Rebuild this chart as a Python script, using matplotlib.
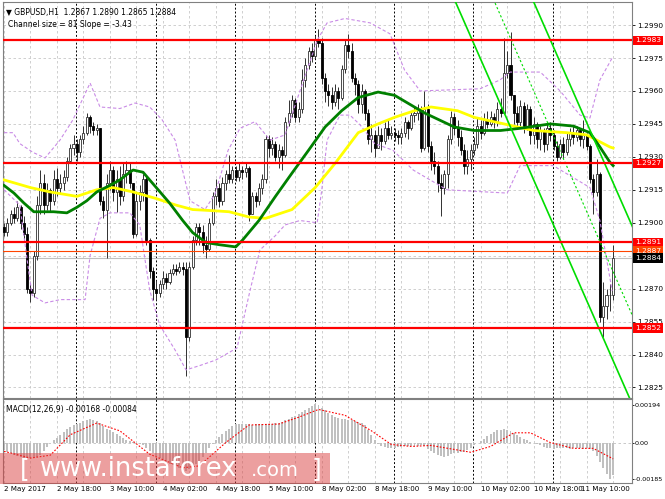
import numpy as np
import matplotlib
matplotlib.use("Agg")
import matplotlib.pyplot as plt
from matplotlib.patches import Rectangle

# ---- data (prices given as pips above 1.2800) ----
BASE = 1.28
first_open = 98
closes = [96, 100, 104, 102, 107, 100, 95, 70, 68, 85,
          108, 118, 108, 115, 110, 120, 116, 118, 121, 128,
          134, 136, 132, 138, 141, 148, 144, 142, 143, 110,
          106, 118, 124, 114, 120, 112, 122, 124, 118, 95,
          110, 114, 120, 92, 78, 70, 68, 72, 75, 73,
          77, 79, 78, 80, 79, 48, 80, 92, 98, 96,
          90, 88, 100, 112, 116, 110, 118, 122, 120, 124,
          121, 124, 123, 125, 104, 112, 110, 116, 120, 138,
          134, 136, 130, 133, 131, 146, 150, 156, 148, 152,
          165, 172, 178, 176, 183, 182, 166, 160, 158, 155,
          160, 157, 170, 181, 178, 166, 163, 154, 160, 150,
          138, 140, 134, 140, 137, 143, 140, 141, 140, 139,
          141, 146, 143, 149, 150, 152, 134, 152, 135, 128,
          126, 118, 116, 122, 138, 148, 143, 139, 133, 126,
          129, 133, 136, 144, 141, 147, 145, 148, 146, 152,
          150, 168, 172, 158, 150, 146, 153, 144, 152, 140,
          145, 138, 142, 136, 143, 140, 135, 130, 136, 132,
          138, 141, 139, 142, 138, 140, 135, 120, 114, 122,
          57, 62, 67, 67, 84]
highs = [100, 102, 106, 107, 110, 108, 103, 98, 72, 87,
         112, 124, 122, 118, 116, 124, 125, 122, 124, 130,
         136, 140, 138, 140, 144, 150, 149, 146, 145, 143,
         112, 122, 128, 126, 124, 126, 127, 128, 127, 118,
         114, 117, 122, 121, 93, 80, 74, 74, 78, 77,
         79, 81, 81, 82, 82, 82, 82, 94, 100, 100,
         99, 94, 102, 114, 120, 118, 121, 124, 131, 126,
         126, 127, 126, 127, 126, 114, 114, 118, 122, 140,
         140, 139, 137, 136, 135, 148, 156, 158, 157, 155,
         170, 175, 180, 182, 185, 188, 184, 168, 163, 162,
         163, 162, 172, 183, 186, 182, 168, 165, 163, 161,
         152, 145, 142, 144, 143, 146, 147, 144, 143, 142,
         143, 148, 147, 151, 153, 154, 153, 160, 154, 137,
         132, 128, 122, 124, 140, 151, 150, 147, 142, 136,
         133, 136, 139, 148, 147, 150, 151, 151, 150, 155,
         157, 184, 178, 187, 158, 153, 156, 155, 154, 153,
         148, 146, 144, 143, 145, 146, 142, 137, 138, 139,
         141, 143, 144, 144, 143, 147, 141, 136, 122, 129,
         123, 73, 70, 72, 90]
lows = [94, 94, 99, 100, 101, 97, 91, 68, 64, 66,
        83, 104, 104, 106, 105, 108, 112, 113, 115, 119,
        127, 131, 128, 130, 136, 140, 141, 140, 140, 108,
        102, 84, 115, 110, 105, 108, 110, 118, 116, 93,
        94, 106, 110, 90, 75, 65, 65, 66, 70, 70,
        72, 76, 76, 77, 76, 30, 46, 79, 90, 90,
        86, 84, 87, 99, 108, 107, 108, 115, 118, 118,
        119, 119, 120, 121, 101, 104, 107, 108, 113, 118,
        130, 131, 128, 125, 124, 130, 144, 148, 146, 146,
        150, 162, 170, 173, 175, 180, 163, 155, 153, 152,
        153, 152, 156, 168, 175, 164, 158, 150, 150, 147,
        136, 132, 130, 134, 133, 136, 138, 138, 137, 136,
        136, 139, 138, 142, 146, 147, 132, 133, 132, 124,
        122, 114, 103, 113, 116, 136, 140, 135, 131, 122,
        122, 124, 131, 134, 138, 140, 143, 144, 143, 144,
        148, 152, 166, 156, 145, 143, 144, 141, 142, 136,
        136, 134, 133, 132, 133, 137, 133, 128, 129, 129,
        131, 135, 136, 137, 135, 134, 133, 118, 104, 112,
        55, 48, 56, 60, 65]

# moving averages and bands: (bar, pips)
ma_green_bars = [0, 3, 6, 9, 15, 19, 22, 25, 28, 32, 35, 38, 39, 42, 46, 50, 54, 57, 61, 65,
                 70, 72, 77, 82, 87, 92, 97, 102, 107, 113, 118, 127, 136, 142, 150, 156,
                 165, 172, 177, 180, 183, 184]
ma_green = [117, 113.5, 109, 105, 105, 104.5, 107, 110, 114, 117, 119.5, 123, 124, 123, 116,
            109, 101, 95.5, 91, 90, 89, 92, 101, 112, 122.6, 133, 143.6, 151, 157, 159.5,
            158, 150, 143.6, 142, 142, 143, 145, 144, 141, 134.5, 127.6, 126]
ma_yellow_bars = [0, 8, 14, 22, 28, 33, 39, 46, 52, 57, 63, 68, 74, 79, 87, 94, 100, 107, 113,
                  118, 124, 129, 137, 142, 151, 160, 170, 176, 183, 184]
ma_yellow = [119.5, 116, 114, 112, 115, 116, 114, 111, 108, 106, 105.5, 105, 102.6, 102, 106,
             116, 127, 141, 145, 148, 151, 152.7, 151, 148, 145, 142, 141, 140, 134.5, 134]
band_up_bars = [0, 2.7, 4.8, 8.8, 12.4, 16.9, 20.8, 26, 29, 35, 39.6, 44, 47.7, 51.7, 56.2,
                60.7, 63.7, 67.7, 71.3, 75.8, 80.4, 84.9, 89.4, 94.6, 97.6, 103, 110.6, 116.6,
                121, 125.7, 143.8, 149.8, 152.9, 162, 168, 174, 177, 180, 183.7]
band_up = [141, 141, 136, 132, 129.5, 137.6, 146.8, 163.6, 152.7, 152, 154.5, 152.7, 147,
           137.6, 110, 106, 113, 133, 143, 146, 137.6, 140, 160, 183, 191, 193, 191, 186,
           169.5, 160, 161, 165, 168.6, 168.6, 160, 149, 147.7, 165, 175]
band_dn_bars = [0, 4.8, 7, 8.5, 12.4, 17, 24.5, 26, 29, 32, 38, 41, 44, 47, 51.7, 55, 59.2,
                64, 70.4, 74.3, 77.3, 81.9, 84.9, 89.4, 94.6, 96, 97.6, 101.5, 104.5, 107.6,
                112, 117.5, 123.6, 133.8, 152, 155.9, 165.9, 177, 180, 183.7]
band_dn = [115, 108, 83, 67, 63.5, 65, 65, 85, 102, 104.5, 104.5, 99, 69.4, 53.5, 42, 33, 35,
           37.5, 43, 69, 87.6, 94, 99, 101, 100, 115, 137.6, 149, 149, 144.5, 136, 133, 124,
           115, 113.5, 126, 126, 116, 101, 69]

# MACD main (x1e-5), one value per bar
macd = [-40, -48, -55, -62, -70, -75, -78, -80, -82, -80,
        -75, -65, -45, -22, 0, 12, 25, 40, 55, 68,
        80, 88, 95, 102, 110, 116, 120, 118, 112, 100,
        85, 72, 62, 52, 42, 32, 22, 15, 10, 5,
        0, -8, -15, -30, -42, -55, -68, -80, -92, -100,
        -108, -115, -122, -130, -140, -145, -135, -122, -110, -95,
        -75, -55, -30, -5, 15, 30, 45, 60, 72, 85,
        95, 93, 95, 96, 94, 92, 95, 95, 96, 95,
        94, 96, 98, 100, 108, 115, 122, 130, 138, 148,
        158, 168, 178, 188, 198, 195, 180, 165, 150, 140,
        132, 125, 122, 120, 118, 115, 110, 105, 98, 90,
        65, 40, 15, -10, -20, -25, -27, -27, -26, -25,
        -22, -20, -18, -20, -22, -20, -15, -20, -35, -45,
        -55, -62, -70, -74, -68, -60, -55, -52, -50, -50,
        -40, -30, -15, 0, 10, 20, 35, 45, 55, 62,
        65, 68, 65, 58, 48, 38, 28, 20, 12, 5,
        0, -8, -15, -22, -28, -30, -32, -30, -30, -28,
        -30, -32, -30, -28, -30, -32, -30, -35, -45, -70,
        -100, -130, -160, -185, -168]
signal_bars = [0, 8, 14, 20, 28, 35, 44, 54, 59, 67, 74, 83, 89, 95, 103, 111, 117, 123, 129,
               141, 147, 154, 159, 165, 172, 178, 184]
signal = [-45, -80, -65, 40, 100, 60, -60, -130, -120, 0, 90, 95, 130, 170, 140, 60, -10, -20,
          -15, -50, -20, 50, 50, 0, -30, -30, -84]

price_ticks = [1.2990, 1.2975, 1.2960, 1.2945, 1.2930, 1.2915, 1.2900, 1.2870, 1.2855, 1.2840, 1.2825]
grid_prices = [1.2990, 1.2975, 1.2960, 1.2945, 1.2930, 1.2915, 1.2900, 1.2885, 1.2870, 1.2855, 1.2840, 1.2825]
levels = [1.2983, 1.2927, 1.2891, 1.2852]
date_labels = ["2 May 2017", "2 May 18:00", "3 May 10:00", "4 May 02:00", "4 May 18:00",
               "5 May 10:00", "8 May 02:00", "8 May 18:00", "9 May 10:00", "10 May 02:00",
               "10 May 18:00", "11 May 10:00"]
date_bars = [0, 16, 32, 48, 64, 80, 96, 112, 128, 144, 160, 174.2]
day_breaks = [21.8, 45.8, 69.8, 93.8, 117.8, 141.8, 165.8]

# ---- figure ----
W, H = 665, 499
fig = plt.figure(figsize=(W / 100, H / 100), dpi=100)
ax = fig.add_axes([3 / W, 101 / H, 629 / W, 396 / H])
ax2 = fig.add_axes([3 / W, 16 / H, 629 / W, 84 / H])

c = BASE + np.array(closes) / 1e4
o = np.concatenate([[BASE + first_open / 1e4], c[:-1]])
hi = np.maximum(BASE + np.array(highs) / 1e4, np.maximum(o, c))
lo = np.minimum(BASE + np.array(lows) / 1e4, np.minimum(o, c))
x = np.arange(len(c))

XL = (-0.3, 189.7)
for a in (ax, ax2):
    a.set_xlim(*XL)
    for b in range(0, 190, 8):
        a.axvline(b, color="#c8c8c8", lw=0.6, ls=(0, (3, 3)), zorder=0)
    for b in day_breaks:
        a.axvline(b, color="black", lw=0.7, ls=(0, (2, 2)), zorder=0.5)
    for s in a.spines.values():
        s.set_color("#808080")
        s.set_linewidth(0.8)
    a.set_xticks([])
    a.yaxis.tick_right()
    a.tick_params(axis="y", length=2, width=0.6, labelsize=5.3, pad=2, colors="black")

ax.set_ylim(1.28202, 1.30005)
for p in grid_prices:
    ax.axhline(p, color="#c8c8c8", lw=0.6, ls=(0, (3, 3)), zorder=0)
ax.set_yticks(price_ticks)
ax.set_yticklabels(["%.4f" % p for p in price_ticks])

# candles
up = c >= o
ax.vlines(x, lo, hi, color="#303030", lw=0.7, zorder=2)
body = np.maximum(np.abs(c - o), 0.00002)
ax.bar(x[up], body[up], bottom=np.minimum(o, c)[up], width=0.62,
       color="white", edgecolor="#303030", linewidth=0.6, zorder=3)
ax.bar(x[~up], body[~up], bottom=np.minimum(o, c)[~up], width=0.62,
       color="black", edgecolor="black", linewidth=0.6, zorder=3)

# bands and averages
ax.plot(band_up_bars, BASE + np.array(band_up) / 1e4, color="#c98be6", lw=0.8,
        ls=(0, (3, 2)), zorder=4)
ax.plot(band_dn_bars, BASE + np.array(band_dn) / 1e4, color="#c98be6", lw=0.8,
        ls=(0, (3, 2)), zorder=4)
ax.plot(ma_yellow_bars, BASE + np.array(ma_yellow) / 1e4, color="#ffff00", lw=2, zorder=5)
ax.plot(ma_green_bars, BASE + np.array(ma_green) / 1e4, color="#008000", lw=2, zorder=5)

# regression channel
slope = -0.000343
cb = np.array([110, 195])
lower = 1.29545 + slope * (cb - 149.8)
ax.plot(cb, lower, color="#00dd00", lw=1.2, zorder=6)
ax.plot(cb, lower + 0.0081, color="#00dd00", lw=1.2, zorder=6)
ax.plot(cb, lower + 0.00405, color="#00dd00", lw=0.8, ls=(0, (2, 2)), zorder=6)

# levels
for p in levels:
    ax.axhline(p, color="#ff0000", lw=1.6, zorder=7)
ax.axhline(1.2887, color="#ff4500", lw=0.8, zorder=7)
ax.axhline(1.2884, color="#c0c0c0", lw=0.8, zorder=1)


def tag(a, val, text, fc):
    a.annotate(text, xy=(1.0, val), xycoords=("axes fraction", "data"),
               xytext=(2, 0), textcoords="offset points", ha="left", va="center",
               fontsize=5.3, color="white", annotation_clip=False, zorder=10,
               bbox=dict(boxstyle="square,pad=0.25", fc=fc, ec="none"))


for p in levels[:3]:
    tag(ax, p, "%.4f" % p, "#ff0000")
tag(ax, 1.2887, "1.2887", "#ff4500")
tag(ax, 1.2884, "1.2884", "black")
tag(ax, 1.2852, "1.2852", "#ff0000")

ax.text(0.004, 0.985, "\u25bc GBPUSD,H1  1.2867 1.2890 1.2865 1.2884", transform=ax.transAxes,
        fontsize=5.5, ha="left", va="top", zorder=11)
ax.text(0.008, 0.955, "Channel size = 81 Slope = -3.43", transform=ax.transAxes,
        fontsize=5.5, ha="left", va="top", zorder=11)

# MACD panel
ax2.set_ylim(-0.00208, 0.002237)
ax2.tick_params(axis="y", labelsize=4.6, pad=0.5, length=1.5)
ax2.axhline(0, color="#c0c0c0", lw=0.6, ls=(0, (3, 3)), zorder=0)
ax2.bar(x, np.array(macd) / 1e5, width=0.6, color="#c0c0c0", zorder=2)
ax2.plot(signal_bars, np.array(signal) / 1e5, color="#ff0000", lw=0.8,
         ls=(0, (1.5, 1.5)), zorder=3)
ax2.set_yticks([0.00194, 0.0, -0.00185])
ax2.set_yticklabels(["0.00194", "0.00", "-0.00185"])
ax2.text(0.004, 0.93, "MACD(12,26,9) -0.00168 -0.00084", transform=ax2.transAxes,
         fontsize=5.5, ha="left", va="top", zorder=11)

for b, lab in zip(date_bars, date_labels):
    ax2.text(b, -0.03, lab, transform=ax2.get_xaxis_transform(), fontsize=5.1,
             ha="left", va="top", clip_on=False)

# watermark
fig.patches.append(Rectangle((0, 15 / H), 330 / W, 31 / H, transform=fig.transFigure,
                             facecolor=(0.86, 0.25, 0.25), alpha=0.5, edgecolor="none",
                             zorder=20))
fig.text(20 / W, 30 / H, "[", color="white", fontsize=18, va="center", ha="left", zorder=21)
fig.text(40 / W, 30 / H, "www.instaforex", color="white", fontsize=18.5, va="center",
         ha="left", zorder=21)
fig.text(251 / W, 28 / H, ".com", color="white", fontsize=14, va="center", ha="left", zorder=21)
fig.text(312 / W, 30 / H, "]", color="white", fontsize=18, va="center", ha="left", zorder=21)

fig.savefig("out.png", dpi=100)
